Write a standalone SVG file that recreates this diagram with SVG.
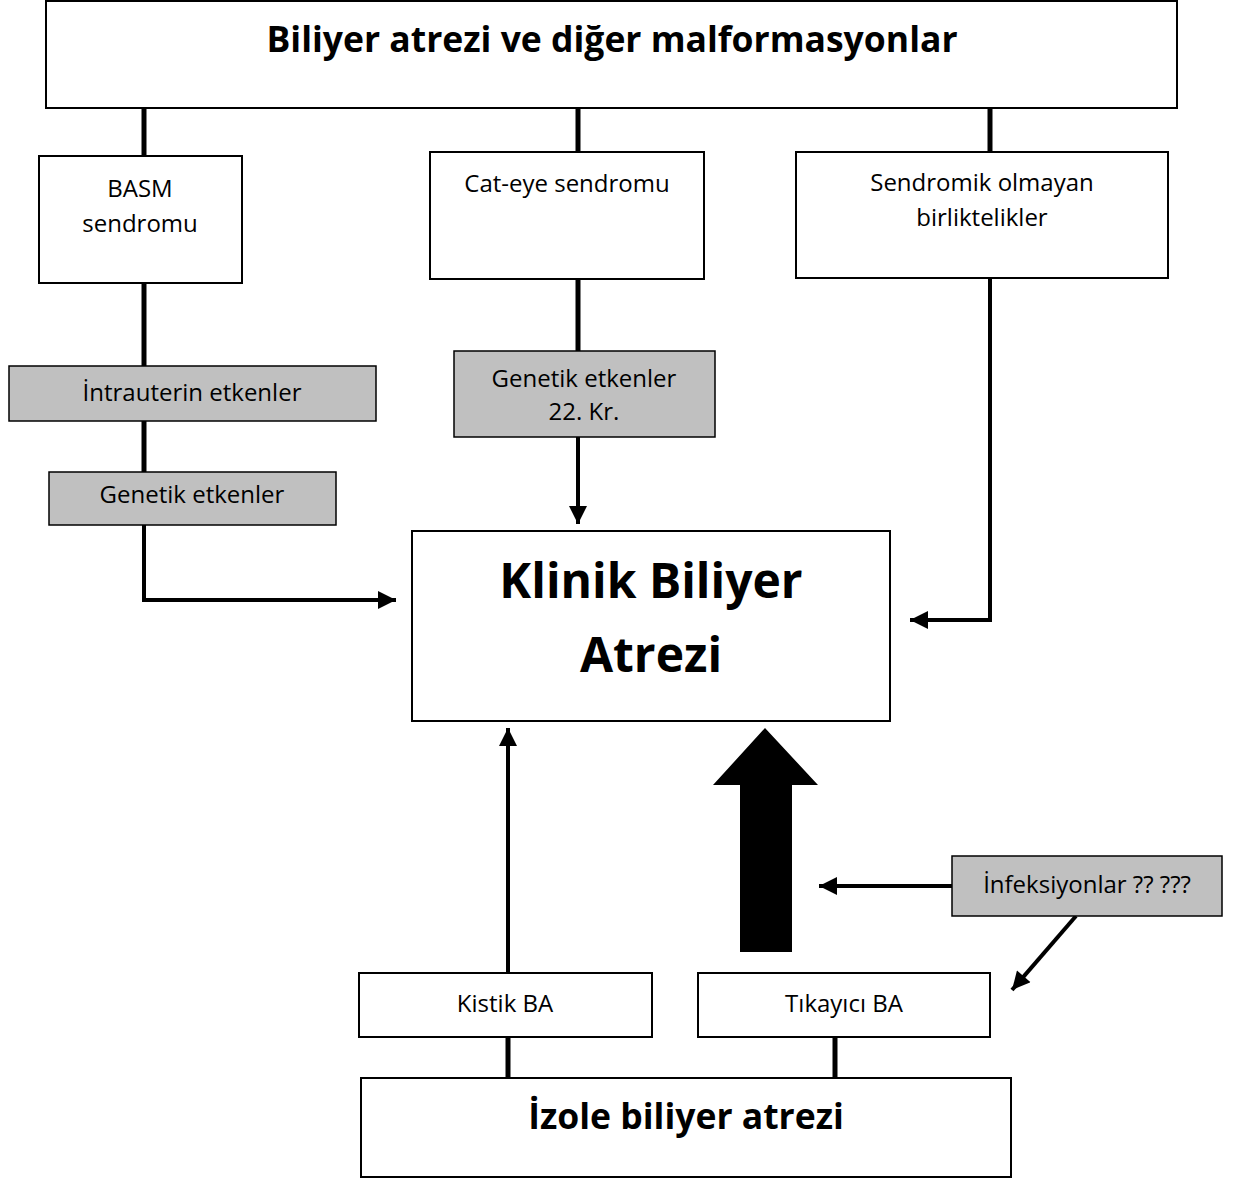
<svg xmlns="http://www.w3.org/2000/svg" width="1237" height="1178" viewBox="0 0 1237 1178">
<defs>
<style>
.box{fill:#fff;stroke:#000;stroke-width:2}
.grey{fill:#c0c0c0;stroke:#000;stroke-width:1.5}
.t{font-family:"Open Sans","Noto Sans",sans-serif;font-size:24px;fill:#000;text-anchor:middle}
.b{font-family:"Open Sans","Noto Sans",sans-serif;font-weight:bold;fill:#000;text-anchor:middle}
.ln{fill:none;stroke:#000;stroke-width:5}
.ar{fill:none;stroke:#000;stroke-width:4}
</style>
<marker id="ah" viewBox="0 0 10 10" refX="10" refY="5" markerWidth="5" markerHeight="4.5" orient="auto" markerUnits="strokeWidth">
<path d="M0,0 L10,5 L0,10 z" fill="#000"/>
</marker>
</defs>
<rect width="1237" height="1178" fill="#fff"/>
<g id="connectors">
<line class="ln" x1="144" y1="108" x2="144" y2="156"/>
<line class="ln" x1="578" y1="108" x2="578" y2="152"/>
<line class="ln" x1="990" y1="108" x2="990" y2="152"/>
<line class="ln" x1="144" y1="283" x2="144" y2="366"/>
<line class="ln" x1="144" y1="421" x2="144" y2="472"/>
<polyline class="ar" points="144,525 144,600 396,600" marker-end="url(#ah)"/>
<line class="ln" x1="578" y1="279" x2="578" y2="351"/>
<line class="ar" x1="578" y1="437" x2="578" y2="524" marker-end="url(#ah)"/>
<polyline class="ar" points="990,278 990,620 910,620" marker-end="url(#ah)"/>
<line class="ar" x1="508" y1="973" x2="508" y2="728" marker-end="url(#ah)"/>
<polygon points="765,728 818,785 792,785 792,952 740,952 740,785 713,785" fill="#000"/>
<line class="ar" x1="952" y1="886" x2="819" y2="886" marker-end="url(#ah)"/>
<line class="ar" x1="1076" y1="916" x2="1012" y2="990" marker-end="url(#ah)"/>
<line class="ln" x1="508" y1="1037" x2="508" y2="1078"/>
<line class="ln" x1="835" y1="1037" x2="835" y2="1078"/>
</g>
<g id="n-top">
<rect class="box" x="46" y="1" width="1131" height="107"/>
<text class="b" x="612" y="52" font-size="35.5">Biliyer atrezi ve diğer malformasyonlar</text>
</g>
<g id="n-basm">
<rect class="box" x="39" y="156" width="203" height="127"/>
<text class="t" x="140" y="197">BASM</text>
<text class="t" x="140" y="232">sendromu</text>
</g>
<g id="n-cateye">
<rect class="box" x="430" y="152" width="274" height="127"/>
<text class="t" x="567" y="192">Cat-eye sendromu</text>
</g>
<g id="n-sendromik">
<rect class="box" x="796" y="152" width="372" height="126"/>
<text class="t" x="982" y="191">Sendromik olmayan</text>
<text class="t" x="982" y="226">birliktelikler</text>
</g>
<g id="n-intrauterin">
<rect class="grey" x="9" y="366" width="367" height="55"/>
<text class="t" x="192" y="401">İntrauterin etkenler</text>
</g>
<g id="n-genetik1">
<rect class="grey" x="49" y="472" width="287" height="53"/>
<text class="t" x="192" y="503">Genetik etkenler</text>
</g>
<g id="n-genetik2">
<rect class="grey" x="454" y="351" width="261" height="86"/>
<text class="t" x="584" y="387">Genetik etkenler</text>
<text class="t" x="584" y="420">22. Kr.</text>
</g>
<g id="n-klinik">
<rect class="box" x="412" y="531" width="478" height="190"/>
<text class="b" x="651" y="598" font-size="48">Klinik Biliyer</text>
<text class="b" x="651" y="672" font-size="48">Atrezi</text>
</g>
<g id="n-infeksiyon">
<rect class="grey" x="952" y="856" width="270" height="60"/>
<text class="t" x="1087" y="893">İnfeksiyonlar ?? ???</text>
</g>
<g id="n-kistik">
<rect class="box" x="359" y="973" width="293" height="64"/>
<text class="t" x="505" y="1012">Kistik BA</text>
</g>
<g id="n-tikayici">
<rect class="box" x="698" y="973" width="292" height="64"/>
<text class="t" x="844" y="1012">Tıkayıcı BA</text>
</g>
<g id="n-izole">
<rect class="box" x="361" y="1078" width="650" height="99"/>
<text class="b" x="686" y="1129" font-size="35.5">İzole biliyer atrezi</text>
</g>
</svg>
